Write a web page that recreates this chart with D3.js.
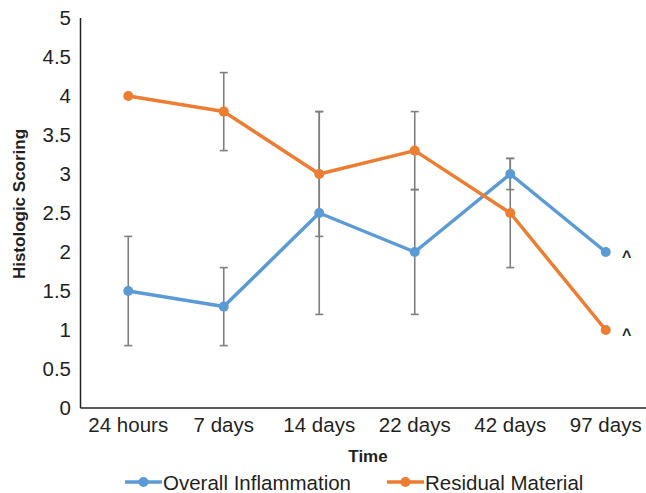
<!DOCTYPE html>
<html>
<head>
<meta charset="utf-8">
<script src="https://cdn.jsdelivr.net/npm/d3@7"></script>
<style>
  body { margin: 0; background: #fff; }
  text { font-family: "Liberation Sans", Arial, sans-serif; fill: #1f1f1f; }
</style>
</head>
<body>
<svg id="chart" width="646" height="493"></svg>
<script>
// data
const categories = ["24 hours", "7 days", "14 days", "22 days", "42 days", "97 days"];
const inflammation = [1.5, 1.3, 2.5, 2.0, 3.0, 2.0];
const inflammationErr = [0.7, 0.5, 1.3, 0.8, 0.2, null];
const residual = [4.0, 3.8, 3.0, 3.3, 2.5, 1.0];
const residualErr = [null, 0.5, 0.8, 0.5, 0.7, null];
const yTicks = [0, 0.5, 1, 1.5, 2, 2.5, 3, 3.5, 4, 4.5, 5];

const series = [
  { name: "Overall Inflammation", values: inflammation, err: inflammationErr, color: "#5b9bd5" },
  { name: "Residual Material", values: residual, err: residualErr, color: "#ed7d31" }
];

const svg = d3.select("#chart");
const plotL = 80.5, plotR = 653.5, plotT = 18, plotB = 408;
const labelFont = "20.5px";

const x = d3.scaleBand().domain(categories).range([plotL, plotR]);
const y = d3.scaleLinear().domain([0, 5]).range([plotB, plotT]);
const cx = (i) => x(categories[i]) + x.bandwidth() / 2;

// y axis labels
svg.append("g")
  .attr("transform", `translate(${plotL},0)`)
  .call(d3.axisLeft(y).tickValues(yTicks).tickFormat(d3.format("")).tickSize(0).tickPadding(9.5))
  .call(g => g.select(".domain").remove())
  .call(g => g.selectAll("text").style("font-size", labelFont).style("font-family", "Liberation Sans, Arial, sans-serif").attr("fill", "#1f1f1f"));

// x axis labels
svg.append("g")
  .attr("transform", `translate(0,${plotB})`)
  .call(d3.axisBottom(x).tickSize(0).tickPadding(9.5))
  .call(g => g.select(".domain").remove())
  .call(g => g.selectAll("text").style("font-size", labelFont).style("font-family", "Liberation Sans, Arial, sans-serif").attr("fill", "#1f1f1f"));

// axis lines
svg.append("line").attr("x1", plotL).attr("x2", plotL).attr("y1", plotT).attr("y2", plotB)
  .attr("stroke", "#222").attr("stroke-width", 1.5);
svg.append("line").attr("x1", plotL).attr("x2", plotR).attr("y1", plotB).attr("y2", plotB)
  .attr("stroke", "#222").attr("stroke-width", 1.5);

// error bars
series.forEach(s => {
  s.values.forEach((v, i) => {
    const e = s.err[i];
    if (e == null) return;
    const g = svg.append("g").attr("stroke", "#7f7f7f").attr("stroke-width", 1.6);
    g.append("line").attr("x1", cx(i)).attr("x2", cx(i)).attr("y1", y(v - e)).attr("y2", y(v + e));
    [v - e, v + e].forEach(t => {
      g.append("line").attr("x1", cx(i) - 4).attr("x2", cx(i) + 4).attr("y1", y(t)).attr("y2", y(t));
    });
  });
});

// lines + markers
const line = d3.line().x((d, i) => cx(i)).y(d => y(d));
series.forEach(s => {
  svg.append("path").datum(s.values).attr("d", line)
    .attr("fill", "none").attr("stroke", s.color).attr("stroke-width", 3.5).attr("stroke-linejoin", "round");
  svg.selectAll(null).data(s.values).enter().append("circle")
    .attr("cx", (d, i) => cx(i)).attr("cy", d => y(d)).attr("r", 5).attr("fill", s.color);
  // ^ note on last point
  const last = s.values.length - 1;
  svg.append("text").attr("x", cx(last) + 21).attr("y", y(s.values[last]) + 9.5)
    .attr("text-anchor", "middle").attr("font-size", 16).attr("font-weight", "bold").text("^");
});

// axis titles
svg.append("text").attr("transform", "translate(25,204) rotate(-90)")
  .attr("text-anchor", "middle").attr("font-size", 17).attr("font-weight", "bold").text("Histologic Scoring");
svg.append("text").attr("x", 368).attr("y", 462)
  .attr("text-anchor", "middle").attr("font-size", 17).attr("font-weight", "bold").text("Time");

// legend
const legendX = [125, 387];
series.forEach((s, k) => {
  const g = svg.append("g").attr("transform", `translate(${legendX[k]},482)`);
  g.append("line").attr("x1", 0).attr("x2", 37).attr("stroke", s.color).attr("stroke-width", 3.5);
  g.append("circle").attr("cx", 18.5).attr("r", 5).attr("fill", s.color);
  g.append("text").attr("x", 38).attr("y", 7.5).style("font-size", labelFont).text(s.name);
});
</script>
</body>
</html>
